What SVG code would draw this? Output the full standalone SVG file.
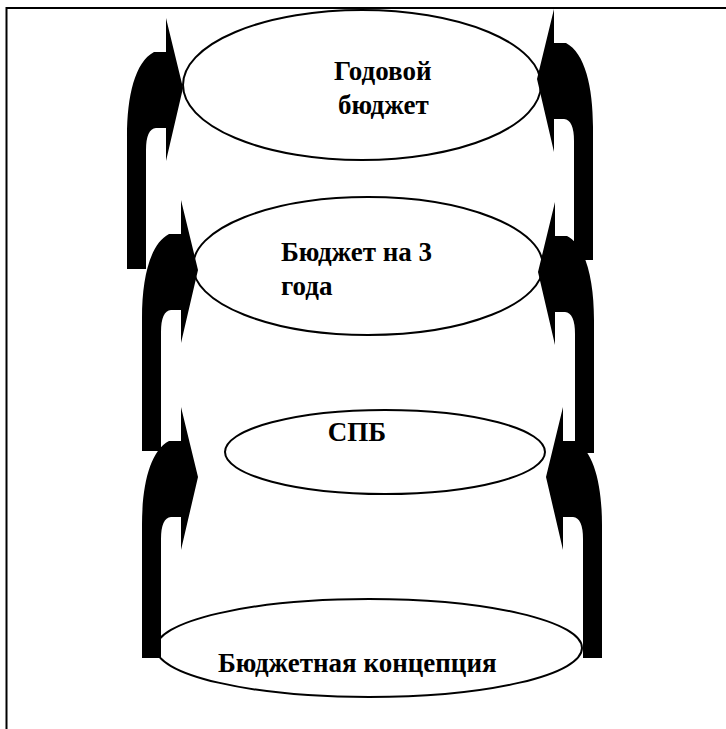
<svg xmlns="http://www.w3.org/2000/svg" width="726" height="729" viewBox="0 0 726 729">
  <style>
    .frame { fill: none; stroke: #000; stroke-width: 2; }
    .stage { fill: #fff; stroke: #000; stroke-width: 2; }
    .label { font-family: "Liberation Serif", "Times New Roman", serif; font-weight: bold; font-size: 27px; fill: #000; }
    .arrow { fill: #000; stroke: none; }
  </style>
  <defs>
    <!-- bent-up band ending in a right-pointing head; origin at band's outer edge, head's top tip -->
    <path id="bent" d="M 39 0 L 56 70 L 39 143 L 39 110 L 29 110 Q 19 111 19 132 L 19 251 L 0 251 L 0 118 C 0 78 8 44 27 34 L 39 34 Z"/>
  </defs>

  <!-- open frame: top and left edges -->
  <path class="frame" d="M 6.5 729 L 6.5 8 L 726 8"/>

  <g id="stage-concept">
    <ellipse class="stage" cx="369" cy="648" rx="213" ry="49"/>
    <text class="label" x="218" y="672">Бюджетная концепция</text>
  </g>
  <g id="stage-spb">
    <ellipse class="stage" cx="385" cy="452" rx="160" ry="42"/>
    <text class="label" x="357" y="441" text-anchor="middle">СПБ</text>
  </g>
  <g id="stage-three-year">
    <ellipse class="stage" cx="368" cy="266" rx="175" ry="69"/>
    <text class="label" x="281" y="261">Бюджет на 3</text>
    <text class="label" x="281" y="295">года</text>
  </g>
  <g id="stage-annual">
    <ellipse class="stage" cx="362" cy="85" rx="179" ry="75"/>
    <text class="label" x="334" y="80">Годовой</text>
    <text class="label" x="338" y="114">бюджет</text>
  </g>

  <g id="connectors" class="arrow">
    <!-- left side, climbing upward -->
    <use href="#bent" transform="translate(127 18)"/>
    <use href="#bent" transform="translate(142 200)"/>
    <use href="#bent" transform="translate(142 407)"/>
    <!-- right side, mirrored -->
    <use href="#bent" transform="translate(593 9) scale(-1 1)"/>
    <use href="#bent" transform="translate(594 202) scale(-1 1)"/>
    <use href="#bent" transform="translate(602 407) scale(-1 1)"/>
  </g>
</svg>
